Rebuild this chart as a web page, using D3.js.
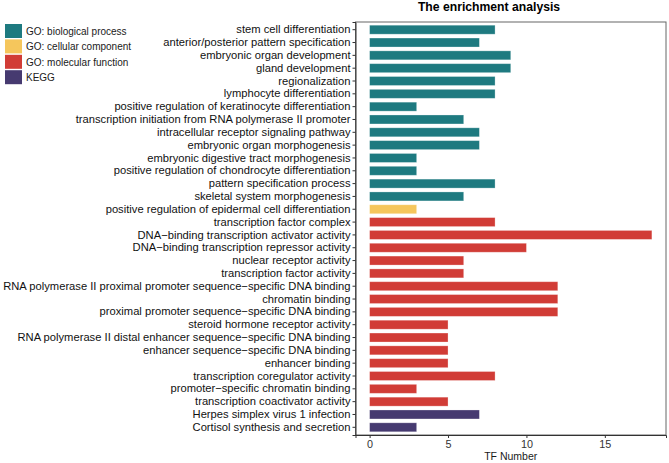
<!DOCTYPE html>
<html><head><meta charset="utf-8">
<script src="https://cdn.jsdelivr.net/npm/d3@7"></script>
<style>body{margin:0;background:#fff}svg{display:block;font-family:"Liberation Sans",Arial,sans-serif}</style>
</head><body><svg id="c" width="669" height="463"></svg>
<script>
const terms = ["stem cell differentiation","anterior/posterior pattern specification","embryonic organ development","gland development","regionalization","lymphocyte differentiation","positive regulation of keratinocyte differentiation","transcription initiation from RNA polymerase II promoter","intracellular receptor signaling pathway","embryonic organ morphogenesis","embryonic digestive tract morphogenesis","positive regulation of chondrocyte differentiation","pattern specification process","skeletal system morphogenesis","positive regulation of epidermal cell differentiation","transcription factor complex","DNA\u2212binding transcription activator activity","DNA\u2212binding transcription repressor activity","nuclear receptor activity","transcription factor activity","RNA polymerase II proximal promoter sequence\u2212specific DNA binding","chromatin binding","proximal promoter sequence\u2212specific DNA binding","steroid hormone receptor activity","RNA polymerase II distal enhancer sequence\u2212specific DNA binding","enhancer sequence\u2212specific DNA binding","enhancer binding","transcription coregulator activity","promoter\u2212specific chromatin binding","transcription coactivator activity","Herpes simplex virus 1 infection","Cortisol synthesis and secretion"];
const counts = [8,7,9,9,8,8,3,6,7,7,3,3,8,6,3,8,18,10,6,6,12,12,12,5,5,5,5,8,3,5,7,3];
const groups = ["BP","BP","BP","BP","BP","BP","BP","BP","BP","BP","BP","BP","BP","BP","CC","MF","MF","MF","MF","MF","MF","MF","MF","MF","MF","MF","MF","MF","MF","MF","KEGG","KEGG"];
const groupKeys = ["BP","CC","MF","KEGG"];
const groupLabels = ["GO: biological process","GO: cellular component","GO: molecular function","KEGG"];
const groupColors = ["#1e7a80","#f5c65c","#d13c36","#463a70"];
const xTicks = [0,5,10,15];

const svg = d3.select("#c");
const L = 355.5, R = 666, T = 22, B = 435;
const x = d3.scaleLinear().domain([-0.9, 18.9]).range([L, R]);
const y = d3.scaleBand().domain(terms).range([T, B]).paddingInner(0.3).paddingOuter(0.25);
const color = d3.scaleOrdinal().domain(groupKeys).range(groupColors);

svg.append("rect").attr("x", L).attr("y", T).attr("width", R - L).attr("height", B - T)
  .attr("fill", "none").attr("stroke", "#666").attr("stroke-width", 1);

svg.append("g").selectAll("rect").data(terms).join("rect")
  .attr("x", x(0)).attr("y", d => y(d))
  .attr("width", (d, i) => x(counts[i]) - x(0)).attr("height", y.bandwidth())
  .attr("fill", (d, i) => color(groups[i]))
  .attr("stroke", "#ffffff").attr("stroke-opacity", 0.35).attr("stroke-width", 0.8);

const ya = svg.append("g").attr("transform", `translate(${L},0)`)
  .call(d3.axisLeft(y).tickSize(3).tickPadding(2));
ya.select(".domain").attr("stroke", "#333");
ya.selectAll(".tick line").attr("stroke", "#333");
ya.selectAll("text").attr("font-size", 11.2).attr("fill", "#111").attr("font-family", "Liberation Sans, Arial, sans-serif");

const xa = svg.append("g").attr("transform", `translate(0,${B})`)
  .call(d3.axisBottom(x).tickValues(xTicks).tickSize(3).tickPadding(2));
xa.select(".domain").attr("stroke", "#333");
xa.selectAll(".tick line").attr("stroke", "#333");
xa.selectAll("text").attr("font-size", 10.8).attr("fill", "#333").attr("font-family", "Liberation Sans, Arial, sans-serif");

svg.append("text").attr("x", (L + R) / 2).attr("y", 459.5).attr("text-anchor", "middle")
  .attr("font-size", 10.5).attr("fill", "#1a1a1a").text("TF Number");

svg.append("text").attr("x", 489).attr("y", 11).attr("text-anchor", "middle")
  .attr("font-size", 12.2).attr("font-weight", "bold").attr("fill", "#000").text("The enrichment analysis");

const lg = svg.append("g").attr("transform", "translate(5,24)");
const li = lg.selectAll("g").data(groupKeys).join("g").attr("transform", (d, i) => `translate(0,${i * 15.4})`);
li.append("rect").attr("width", 17).attr("height", 14).attr("fill", d => color(d));
li.append("text").attr("x", 21).attr("y", 11).attr("font-size", 10).attr("fill", "#1a1a1a")
  .text((d, i) => groupLabels[i]);
</script></body></html>
